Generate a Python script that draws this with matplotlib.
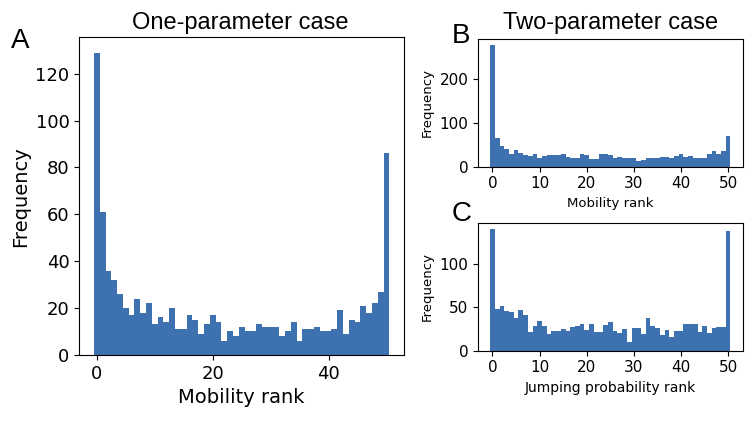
import numpy as np
import matplotlib
matplotlib.use("Agg")
import matplotlib.pyplot as plt

BAR_COLOR = "#3d71b0"
HEAD_FONT = ["Liberation Sans", "DejaVu Sans"]

ranks = list(range(51))

# panel A: one-parameter case, mobility rank counts
counts_a = [129, 61, 36, 32, 26, 20, 17, 24, 18, 22, 13, 16, 14, 20, 11, 11, 17, 15, 9, 13,
            17, 14, 6, 10, 8, 12, 10, 10, 13, 12, 12, 12, 8, 10, 14, 6, 11, 11, 12, 10,
            10, 11, 19, 9, 15, 14, 21, 18, 22, 27, 86]

# panel B: two-parameter case, mobility rank counts
counts_b = [278, 65, 47, 40, 30, 38, 32, 27, 24, 28, 21, 24, 27, 26, 27, 29, 23, 21, 21, 29,
            26, 17, 17, 30, 28, 27, 21, 23, 20, 21, 19, 14, 15, 20, 21, 19, 22, 23, 20, 25,
            30, 23, 25, 20, 20, 21, 30, 37, 30, 37, 70]

# panel C: two-parameter case, jumping probability rank counts
counts_c = [140, 48, 51, 46, 44, 37, 47, 41, 22, 28, 34, 28, 19, 23, 23, 25, 23, 27, 28, 31,
            24, 31, 21, 21, 29, 33, 23, 20, 25, 10, 26, 26, 19, 37, 28, 26, 18, 24, 16, 23,
            23, 31, 31, 31, 22, 28, 20, 26, 27, 27, 138]

edges = np.arange(-0.5, 51.5, 1.0)

fig = plt.figure(figsize=(7.47, 4.21), dpi=100)

# ---- Panel A ---------------------------------------------------------------
ax_a = fig.add_axes([0.106, 0.157, 0.435, 0.754])
ax_a.hist(ranks, bins=edges, weights=counts_a, color=BAR_COLOR)
ax_a.set_xticks([0, 20, 40])
ax_a.set_yticks(range(0, 121, 20))
ax_a.tick_params(labelsize=13)
ax_a.set_xlabel("Mobility rank", fontsize=14)
ax_a.set_ylabel("Frequency", fontsize=14)

# ---- Panel B ---------------------------------------------------------------
ax_b = fig.add_axes([0.640, 0.604, 0.354, 0.303])
ax_b.hist(ranks, bins=edges, weights=counts_b, color=BAR_COLOR)
ax_b.set_xticks(range(0, 51, 10))
ax_b.set_yticks([0, 100, 200])
ax_b.tick_params(labelsize=11)
ax_b.set_xlabel("Mobility rank", fontsize=9.5)
ax_b.set_ylabel("Frequency", fontsize=9.5)

# ---- Panel C ---------------------------------------------------------------
ax_c = fig.add_axes([0.640, 0.167, 0.354, 0.304])
ax_c.hist(ranks, bins=edges, weights=counts_c, color=BAR_COLOR)
ax_c.set_xticks(range(0, 51, 10))
ax_c.set_yticks([0, 50, 100])
ax_c.tick_params(labelsize=11)
ax_c.set_xlabel("Jumping probability rank", fontsize=10)
ax_c.set_ylabel("Frequency", fontsize=9.5)

# headings and panel letters
fig.text(0.322, 0.932, "One-parameter case", fontsize=17, family=HEAD_FONT,
         ha="center", va="baseline")
fig.text(0.818, 0.932, "Two-parameter case", fontsize=17, family=HEAD_FONT,
         ha="center", va="baseline")
fig.text(0.015, 0.886, "A", fontsize=20, family=HEAD_FONT, va="baseline")
fig.text(0.605, 0.898, "B", fontsize=20, family=HEAD_FONT, va="baseline")
fig.text(0.605, 0.475, "C", fontsize=20, family=HEAD_FONT, va="baseline")

plt.savefig("out.png", dpi=100)
plt.close()
